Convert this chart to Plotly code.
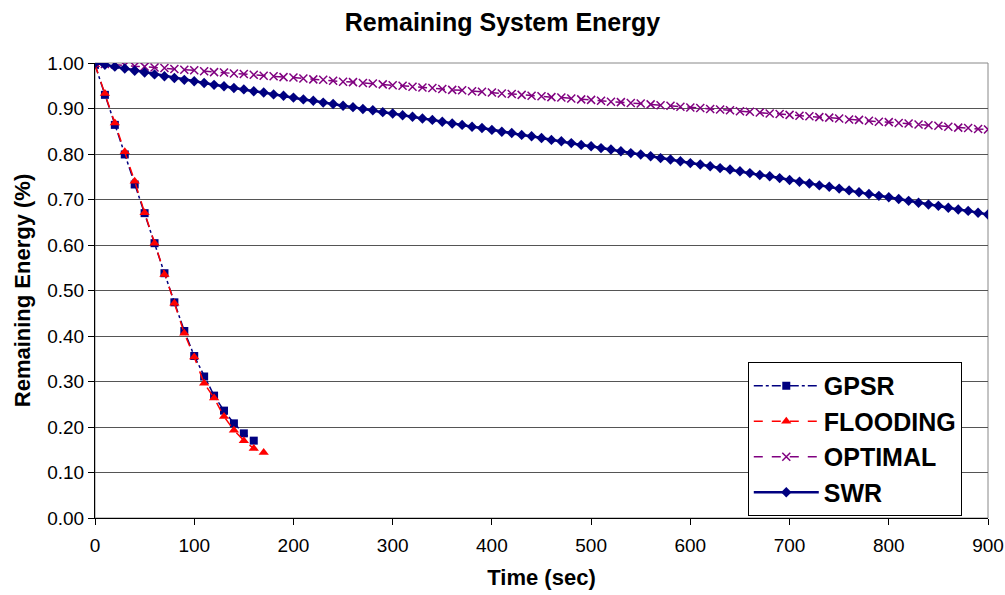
import plotly.graph_objects as go

# ---- data ----
gpsr_t = [0, 10, 20, 30, 40, 50, 60, 70, 80, 90, 100, 110, 120, 130, 140, 150, 160]
gpsr_e = [0.996, 0.930, 0.864, 0.799, 0.733, 0.670, 0.604, 0.538, 0.474, 0.411,
          0.356, 0.311, 0.269, 0.236, 0.208, 0.186, 0.170]

flood_t = [0, 10, 20, 30, 40, 50, 60, 70, 80, 90, 100, 110, 120, 130, 140, 150, 160, 170]
flood_e = [0.996, 0.933, 0.868, 0.805, 0.740, 0.671, 0.604, 0.535, 0.472, 0.406,
           0.354, 0.296, 0.264, 0.223, 0.193, 0.170, 0.153, 0.144]

time_long = list(range(0, 901, 10))

optimal_e = [1.000, 0.998, 0.997, 0.995, 0.993, 0.992, 0.990, 0.989, 0.987, 0.985,
             0.984, 0.982, 0.980, 0.979, 0.977, 0.976, 0.974, 0.972, 0.971, 0.969,
             0.968, 0.966, 0.964, 0.963, 0.961, 0.959, 0.958, 0.956, 0.955, 0.953,
             0.951, 0.950, 0.948, 0.946, 0.945, 0.943, 0.941, 0.940, 0.938, 0.937,
             0.935, 0.933, 0.932, 0.930, 0.928, 0.927, 0.925, 0.924, 0.922, 0.920,
             0.919, 0.917, 0.915, 0.914, 0.912, 0.911, 0.909, 0.907, 0.906, 0.904,
             0.902, 0.901, 0.899, 0.898, 0.896, 0.894, 0.893, 0.891, 0.889, 0.888,
             0.886, 0.884, 0.883, 0.881, 0.880, 0.878, 0.876, 0.875, 0.873, 0.871,
             0.870, 0.868, 0.867, 0.865, 0.863, 0.862, 0.860, 0.858, 0.857, 0.855,
             0.854]

swr_e = [1.000, 0.996, 0.992, 0.988, 0.983, 0.979, 0.975, 0.971, 0.967, 0.963,
         0.960, 0.956, 0.952, 0.949, 0.945, 0.942, 0.938, 0.935, 0.931, 0.928,
         0.924, 0.920, 0.917, 0.913, 0.910, 0.906, 0.903, 0.899, 0.896, 0.892,
         0.889, 0.885, 0.882, 0.878, 0.875, 0.871, 0.867, 0.864, 0.860, 0.857,
         0.853, 0.849, 0.846, 0.842, 0.839, 0.835, 0.831, 0.828, 0.824, 0.820,
         0.817, 0.813, 0.810, 0.806, 0.802, 0.799, 0.795, 0.791, 0.788, 0.784,
         0.780, 0.777, 0.773, 0.769, 0.766, 0.762, 0.758, 0.754, 0.751, 0.747,
         0.743, 0.739, 0.735, 0.731, 0.728, 0.724, 0.720, 0.716, 0.712, 0.708,
         0.705, 0.701, 0.697, 0.693, 0.689, 0.686, 0.682, 0.678, 0.675, 0.671,
         0.667]

x_ticks = [0, 100, 200, 300, 400, 500, 600, 700, 800, 900]
y_ticks = [0.0, 0.1, 0.2, 0.3, 0.4, 0.5, 0.6, 0.7, 0.8, 0.9, 1.0]

FONT = "Liberation Sans, Arial, Helvetica, sans-serif"

fig = go.Figure()
fig.add_trace(go.Scatter(
    x=gpsr_t, y=gpsr_e, name="GPSR", mode="lines+markers",
    line=dict(color="#000080", width=1.5, dash="dashdot"),
    marker=dict(symbol="square", size=8, color="#000080"),
))
fig.add_trace(go.Scatter(
    x=flood_t, y=flood_e, name="FLOODING", mode="lines+markers",
    line=dict(color="#ff0000", width=1.5, dash="dash"),
    marker=dict(symbol="triangle-up", size=9, color="#ff0000"),
))
fig.add_trace(go.Scatter(
    x=time_long, y=optimal_e, name="OPTIMAL", mode="lines+markers",
    line=dict(color="#800080", width=1.5, dash="dash"),
    marker=dict(symbol="x-thin", size=8, color="#800080",
                line=dict(color="#800080", width=1.5)),
))
fig.add_trace(go.Scatter(
    x=time_long, y=swr_e, name="SWR", mode="lines+markers",
    line=dict(color="#000080", width=2.5),
    marker=dict(symbol="diamond", size=8, color="#000080"),
))

fig.update_layout(
    width=1005, height=595,
    margin=dict(l=95, r=17, t=63, b=77, autoexpand=False),
    paper_bgcolor="white", plot_bgcolor="white",
    font=dict(family=FONT, color="black", size=19),
    title=dict(text="<b>Remaining System Energy</b>", x=0.5, xanchor="center",
               y=0.963, yanchor="middle", font=dict(size=25, family=FONT)),
    showlegend=True,
    legend=dict(
        x=0.731, y=0.343, xanchor="left", yanchor="top",
        bgcolor="white", bordercolor="black", borderwidth=1,
        font=dict(size=25, family=FONT, color="black", weight="bold"),
        itemwidth=65, tracegroupgap=0, entrywidth=205, entrywidthmode="pixels",
    ),
)
fig.update_xaxes(
    range=[0, 900], tickvals=x_ticks, ticks="outside", ticklen=6,
    tickcolor="black", showline=True, linecolor="black", linewidth=1,
    showgrid=False, zeroline=False, mirror=False, automargin=False,
    ticklabelstandoff=4,
    title=dict(text="<b>Time (sec)</b>", font=dict(size=22), standoff=14),
    tickfont=dict(size=19),
)
fig.update_yaxes(
    range=[0, 1.0], tickvals=y_ticks, tickformat=".2f", ticks="outside",
    ticklen=6, tickcolor="black", showline=True, linecolor="black", linewidth=1,
    showgrid=True, gridcolor="#555555", gridwidth=1, zeroline=False,
    automargin=False,
    title=dict(text="<b>Remaining Energy (%)</b>", font=dict(size=22), standoff=10),
    tickfont=dict(size=19),
)
# gray frame top/right
fig.add_shape(type="rect", xref="paper", yref="paper", x0=0, y0=0, x1=1, y1=1,
              line=dict(color="#888888", width=1), layer="below")

fig.write_html("out.html", config={"displayModeBar": False},
               post_script="document.body.style.margin='0';document.body.style.overflow='hidden';")
